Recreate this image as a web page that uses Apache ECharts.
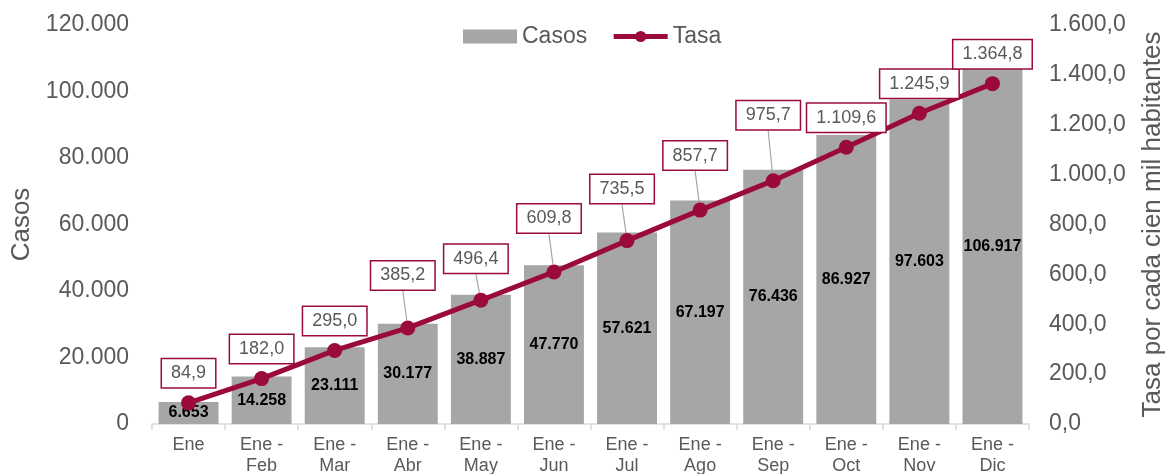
<!DOCTYPE html>
<html>
<head>
<meta charset="utf-8">
<script src="https://cdn.jsdelivr.net/npm/echarts@6/dist/echarts.min.js"></script>
<style>
  html, body { margin: 0; padding: 0; background: #fff; }
  #chart { width: 1166px; height: 474px; }
</style>
</head>
<body>
<div id="chart"></div>
<script>
const categories = ['Ene', 'Ene -\nFeb', 'Ene -\nMar', 'Ene -\nAbr', 'Ene -\nMay', 'Ene -\nJun',
  'Ene -\nJul', 'Ene -\nAgo', 'Ene -\nSep', 'Ene -\nOct', 'Ene -\nNov', 'Ene -\nDic'];
const casos = [6653, 14258, 23111, 30177, 38887, 47770, 57621, 67197, 76436, 86927, 97603, 106917];
const tasa = [84.9, 182.0, 295.0, 385.2, 496.4, 609.8, 735.5, 857.7, 975.7, 1109.6, 1245.9, 1364.8];
// extra lift of the rate labels, in pixels (the lifted ones get a leader line)
const tasaLift = [0, 0, 0, -23, -12, -24, -22, -25, -36, 0, 0, 0];

const RED = '#9B0B3A';
const GREY_TEXT = '#595959';

function fmt(v, dec) {
  const parts = v.toFixed(dec).split('.');
  const ent = parts[0].replace(/\B(?=(\d{3})+(?!\d))/g, '.');
  return parts.length > 1 ? ent + ',' + parts[1] : ent;
}

const chart = echarts.init(document.getElementById('chart'), null, { renderer: 'canvas' });

chart.setOption({
  animation: false,
  textStyle: { fontFamily: 'Liberation Sans, Arial, sans-serif' },
  legend: {
    top: 20,
    left: 458,
    itemGap: 24,
    textStyle: { fontSize: 23, color: GREY_TEXT },
    itemWidth: 54,
    itemHeight: 14,
    data: [
      { name: 'Casos', icon: 'rect', itemStyle: { color: '#A6A6A6' } },
      { name: 'Tasa', itemStyle: { color: RED }, lineStyle: { color: RED, width: 5 } }
    ]
  },
  grid: { left: 152, right: 137, top: 25, bottom: 50, outerBoundsMode: 'none', containLabel: false },
  xAxis: {
    type: 'category',
    data: categories,
    axisLine: { lineStyle: { color: '#D9D9D9', width: 1.5 } },
    axisTick: { show: true, length: 6, lineStyle: { color: '#D9D9D9', width: 1.5 } },
    axisLabel: { color: GREY_TEXT, fontSize: 18, lineHeight: 21, margin: 11, interval: 0 }
  },
  yAxis: [
    {
      type: 'value',
      min: 0, max: 120000, interval: 20000,
      name: 'Casos',
      nameLocation: 'middle',
      nameGap: 116,
      nameTextStyle: { fontSize: 26, color: GREY_TEXT },
      splitLine: { show: false },
      axisLine: { show: false },
      axisTick: { show: false },
      axisLabel: { color: GREY_TEXT, fontSize: 23, margin: 23, formatter: v => fmt(v, 0) }
    },
    {
      type: 'value',
      min: 0, max: 1600, interval: 200,
      name: 'Tasa por cada cien mil habitantes',
      nameLocation: 'middle',
      nameGap: 111,
      nameTextStyle: { fontSize: 26, color: GREY_TEXT },
      splitLine: { show: false },
      axisLine: { show: false },
      axisTick: { show: false },
      axisLabel: { color: GREY_TEXT, fontSize: 23, margin: 20, formatter: v => fmt(v, 1) }
    }
  ],
  series: [
    {
      name: 'Casos',
      type: 'bar',
      data: casos,
      barCategoryGap: '18%',
      itemStyle: { color: '#A6A6A6' },
      label: {
        show: true,
        position: 'inside',
        color: '#000',
        fontWeight: 'bold',
        fontSize: 16,
        formatter: p => fmt(p.value, 0)
      }
    },
    {
      name: 'Tasa',
      type: 'line',
      yAxisIndex: 1,
      data: tasa.map((v, i) => ({
        value: v,
        labelLine: { show: tasaLift[i] !== 0 }
      })),
      symbol: 'circle',
      symbolSize: 15,
      lineStyle: { color: RED, width: 5 },
      itemStyle: { color: RED },
      label: {
        show: true,
        position: 'top',
        distance: 8,
        color: GREY_TEXT,
        fontSize: 18,
        backgroundColor: '#fff',
        borderColor: RED,
        borderWidth: 1.5,
        padding: [5, 9, 5, 9],
        formatter: p => fmt(p.value, 1)
      },
      labelLine: { lineStyle: { color: '#A6A6A6', width: 1.2 } },
      labelLayout: p => ({
        dy: tasaLift[p.dataIndex],
        dx: tasaLift[p.dataIndex] !== 0 ? -5 : 0
      }),
      z: 5
    }
  ]
});
</script>
</body>
</html>
